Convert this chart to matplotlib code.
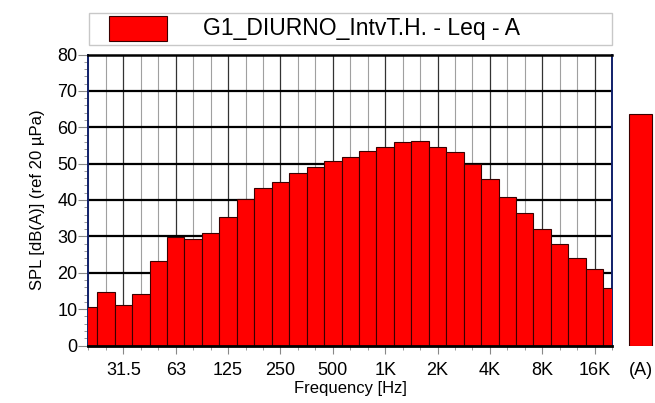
import matplotlib
matplotlib.use("Agg")
import matplotlib.pyplot as plt
from matplotlib.patches import Rectangle
import numpy as np

plt.rcParams['font.family'] = ['Liberation Sans', 'DejaVu Sans']

bands = ["20", "25", "31.5", "40", "50", "63", "80", "100", "125", "160", "200", "250",
         "315", "400", "500", "630", "800", "1K", "1.25K", "1.6K", "2K", "2.5K", "3.15K",
         "4K", "5K", "6.3K", "8K", "10K", "12.5K", "16K", "20K"]
levels = [10.7, 14.6, 11.1, 14.2, 23.3, 29.8, 29.3, 30.9, 35.2, 40.2, 43.2, 45.0,
          47.3, 49.0, 50.8, 51.9, 53.6, 54.5, 56.0, 56.2, 54.6, 53.2, 49.8,
          45.7, 40.9, 36.4, 32.1, 28.0, 24.0, 20.9, 15.9]
labeled = ["31.5", "63", "125", "250", "500", "1K", "2K", "4K", "8K", "16K"]
total_label = "(A)"
total_value = 63.7
legend_text = "G1_DIURNO_IntvT.H. - Leq - A"

W, H = 655, 403
fig = plt.figure(figsize=(W / 100, H / 100), dpi=100)

def fx(px):
    return px / W

def fy(py):
    return 1 - py / H

x0, x1, ytop, ybot = 88.5, 612, 54.5, 345.5
ax = fig.add_axes([fx(x0), fy(ybot), fx(x1) - fx(x0), fy(ytop) - fy(ybot)])
idx = np.arange(len(bands))
ax.bar(idx, levels, width=1.0, color='#ff0000', edgecolor='#3a0000', linewidth=0.8, zorder=3)
ax.set_xlim(0, len(bands) - 1)
ax.set_ylim(0, 80)

# grid
for i in idx:
    dark = bands[i] in labeled
    ax.axvline(i, color='#333333' if dark else '#a0a0a0', lw=0.9 if dark else 0.8, zorder=1)
for v in range(10, 80, 10):
    ax.axhline(v, color='black', lw=1.6, zorder=1)

ax.set_yticks(range(0, 81, 10))
ax.set_yticks(range(0, 81, 2), minor=True)
ax.tick_params(axis='y', which='major', length=7, color='#888888', labelsize=13, pad=1)
ax.tick_params(axis='y', which='minor', length=3, color='#888888')
lab_idx = [bands.index(b) for b in labeled]
ax.set_xticks(lab_idx)
ax.set_xticklabels(labeled)
ax.set_xticks(idx, minor=True)
ax.tick_params(axis='x', which='major', length=6, color='#888888', labelsize=13, pad=6)
ax.tick_params(axis='x', which='minor', length=3, color='#888888')

for s in ['left', 'right']:
    ax.spines[s].set_color('#10206a')
    ax.spines[s].set_linewidth(1.4)
ax.spines['top'].set_color('black')
ax.spines['top'].set_linewidth(1.8)
ax.spines['bottom'].set_color('black')
ax.spines['bottom'].set_linewidth(2.0)
ax.spines['bottom'].set_zorder(5)

ax.set_ylabel("SPL [dB(A)] (ref 20 µPa)", fontsize=12, labelpad=9)
ax.set_xlabel("Frequency [Hz]", fontsize=12, labelpad=1)

# total (A) bar
axA = fig.add_axes([fx(626), fy(ybot), fx(655) - fx(626), fy(ytop) - fy(ybot)])
axA.bar([0], [total_value], width=0.76, color='#ff0000', edgecolor='#3a0000', linewidth=0.8)
axA.set_xlim(-0.5, 0.5)
axA.set_ylim(0, 80)
axA.set_yticks([])
axA.set_xticks([0])
axA.set_xticklabels([total_label])
axA.tick_params(axis='x', length=0, labelsize=13, pad=12)
for s in axA.spines.values():
    s.set_visible(False)

# legend box
fig.patches.append(Rectangle((fx(89), fy(44.5)), fx(612) - fx(89), fy(12.5) - fy(44.5),
                             transform=fig.transFigure, facecolor='white',
                             edgecolor='#c8c8c8', lw=1.0))
fig.patches.append(Rectangle((fx(109), fy(40.5)), fx(167) - fx(109), fy(16) - fy(40.5),
                             transform=fig.transFigure, facecolor='#ff0000',
                             edgecolor='#3a0000', lw=0.8))
fig.text(fx(203), fy(28.5), legend_text, fontsize=16.5, va='center', ha='left')

fig.savefig("out.png", dpi=100)
